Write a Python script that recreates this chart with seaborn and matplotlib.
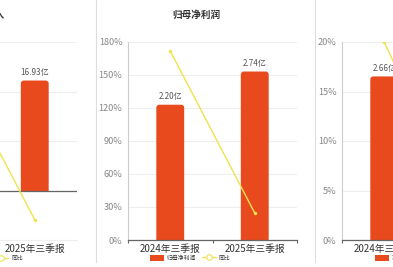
import numpy as np
import pandas as pd
import matplotlib
matplotlib.use("Agg")
import matplotlib.pyplot as plt
import seaborn as sns
from matplotlib.patches import FancyBboxPatch, Patch, Rectangle
from matplotlib.lines import Line2D

sns.set_theme(style="white")
plt.rcParams['font.family'] = ['Noto Sans CJK SC', 'DejaVu Sans']

# ---------------- data ----------------
categories = ["2024年三季报", "2025年三季报"]
titles = ["营业总收入", "归母净利润", "净利润"]
bar_values_0 = [24.0, 16.93]
bar_values_1 = [2.20, 2.74]
bar_values_2 = [2.66, 2.70]
bar_labels_0 = ["24.00亿", "16.93亿"]
bar_labels_1 = ["2.20亿", "2.74亿"]
bar_labels_2 = ["2.66亿", "2.70亿"]
yoy_0 = [134.0, -29.5]
yoy_1 = [171.8, 24.5]
yoy_2 = [20.0, 1.6]
pct_ticks_0 = [-50, 0, 50, 100, 150]
pct_ticks_1 = [0, 30, 60, 90, 120, 150, 180]
pct_ticks_2 = [0, 5, 10, 15, 20]
line_name = "同比"

bar_values = [bar_values_0, bar_values_1, bar_values_2]
bar_labels = [bar_labels_0, bar_labels_1, bar_labels_2]
yoys = [yoy_0, yoy_1, yoy_2]
pct_ticks = [pct_ticks_0, pct_ticks_1, pct_ticks_2]

# ---------------- layout ----------------
W, H = 393, 267
BAR = "#E8491D"
LINE = "#EEE34E"
ax_lefts = [-92, 128, 342]
ax_w = 169
top_px, bot_px = 42, 240
bar_ylims = [(-7.62, 22.86), (0, 3.22), (0, 3.22)]
title_cx = [-19, 196, 410]

fig = plt.figure(figsize=(W / 100, H / 100), dpi=100)
fig.patch.set_facecolor("white")

for i in range(3):
    ax = fig.add_axes([ax_lefts[i] / W, 1 - bot_px / H, ax_w / W, (bot_px - top_px) / H])
    ax.set_facecolor("none")
    df = pd.DataFrame({"cat": categories, "val": bar_values[i]})
    sns.barplot(data=df, x="cat", y="val", ax=ax, color=BAR, width=0.33,
                saturation=1, zorder=2)
    lo, hi = bar_ylims[i]
    ax.set_ylim(lo, hi)
    ax.set_xlim(-0.5, 1.5)

    # rounded tops: extend bar downward by the radius and clip at its base
    ppy = (bot_px - top_px) / (hi - lo)
    ppx = ax_w / 2.0
    r = 3.0 / ppx
    ry = 3.0 / ppy
    asp = ry / r
    for p in list(ax.patches):
        x, y = p.get_x(), p.get_y()
        w, h = p.get_width(), p.get_height()
        p.remove()
        fb = FancyBboxPatch((x, y - 2 * ry), w, h + 2 * ry,
                            boxstyle=f"round,pad=0,rounding_size={r}",
                            mutation_aspect=asp, fc=BAR, ec="none", lw=0, zorder=2)
        ax.add_patch(fb)
        clip = Rectangle((x - 0.2, y), w + 0.4, h + 10 * ry, transform=ax.transData)
        fb.set_clip_path(clip)
        ax.annotate(bar_labels[i][int(round(x + w / 2))], (x + w / 2, y + h),
                    xytext=(0, 2.5), textcoords="offset points", ha="center",
                    va="bottom", fontsize=5.8, color="#555555", zorder=5)

    # percent axis (line)
    plo, phi = pct_ticks[i][0], pct_ticks[i][-1]
    for t in pct_ticks[i]:
        yb = lo + (t - plo) / (phi - plo) * (hi - lo)
        ax.axhline(yb, color="#eeeeee", lw=0.8, zorder=0)
    if lo < 0:
        ax.axhline(0, color="#666666", lw=0.9, zorder=3)

    ax.set_yticks([])
    ax.set_xlabel("")
    ax.set_ylabel("")
    ax.tick_params(axis="x", labelsize=7.0, colors="#333333", length=0, pad=2.5)
    for s in ["top", "right"]:
        ax.spines[s].set_visible(False)
    ax.spines["left"].set_color("#cccccc")
    ax.spines["left"].set_linewidth(0.8)
    if lo < 0:
        ax.spines["bottom"].set_color("#eeeeee")
        ax.spines["bottom"].set_linewidth(0.8)
    else:
        ax.spines["bottom"].set_color("#666666")
        ax.spines["bottom"].set_linewidth(0.9)
        ax.set_xticks([-0.5, 0.5, 1.5], minor=True)
        ax.tick_params(axis="x", which="minor", length=2.5, width=0.8,
                       color="#666666", direction="out", bottom=True)

    ax2 = ax.twinx()
    sns.lineplot(x=[0, 1], y=yoys[i], ax=ax2, color=LINE, lw=1.0, marker="o",
                 markersize=2.5, markeredgewidth=0, zorder=4)
    ax2.set_ylim(plo, phi)
    ax2.set_xlim(-0.5, 1.5)
    ax2.set_yticks(pct_ticks[i])
    ax2.set_yticklabels([f"{t}%" for t in pct_ticks[i]])
    ax2.yaxis.tick_left()
    ax2.set_ylabel("")
    ax2.tick_params(axis="y", labelsize=6.6, colors="#888888", length=0, pad=4)
    for s in ax2.spines.values():
        s.set_visible(False)

    # title
    fig.text(title_cx[i] / W, 1 - 15 / H, titles[i], ha="center", va="center",
             fontsize=6.9, fontweight="bold", color="#333333")

# legends
handles = [Patch(fc=BAR, ec="none"),
           Line2D([0], [0], color=LINE, lw=1.0, marker="o", markersize=4,
                  mfc="white", mec=LINE, mew=0.8)]
leg_kw = dict(ncol=2, frameon=False, fontsize=4.2, handlelength=2.4,
              handleheight=1.2, columnspacing=0.9, handletextpad=0.5,
              borderpad=0, borderaxespad=0, labelcolor="#333333")
fig.legend(handles, [titles[0], line_name], loc="center right",
           bbox_to_anchor=(23 / W, 1 - 258 / H), **leg_kw)
fig.legend(handles, [titles[1], line_name], loc="center left",
           bbox_to_anchor=(150 / W, 1 - 258 / H), **leg_kw)
fig.legend(handles, [titles[2], line_name], loc="center left",
           bbox_to_anchor=(375 / W, 1 - 258 / H), **leg_kw)

# card dividers
for xd in [96, 315]:
    fig.add_artist(Line2D([xd / W, xd / W], [1 - 262 / H, 1], transform=fig.transFigure,
                          color="#dddddd", lw=0.8))

fig.savefig("out.png", dpi=100, facecolor="white")
